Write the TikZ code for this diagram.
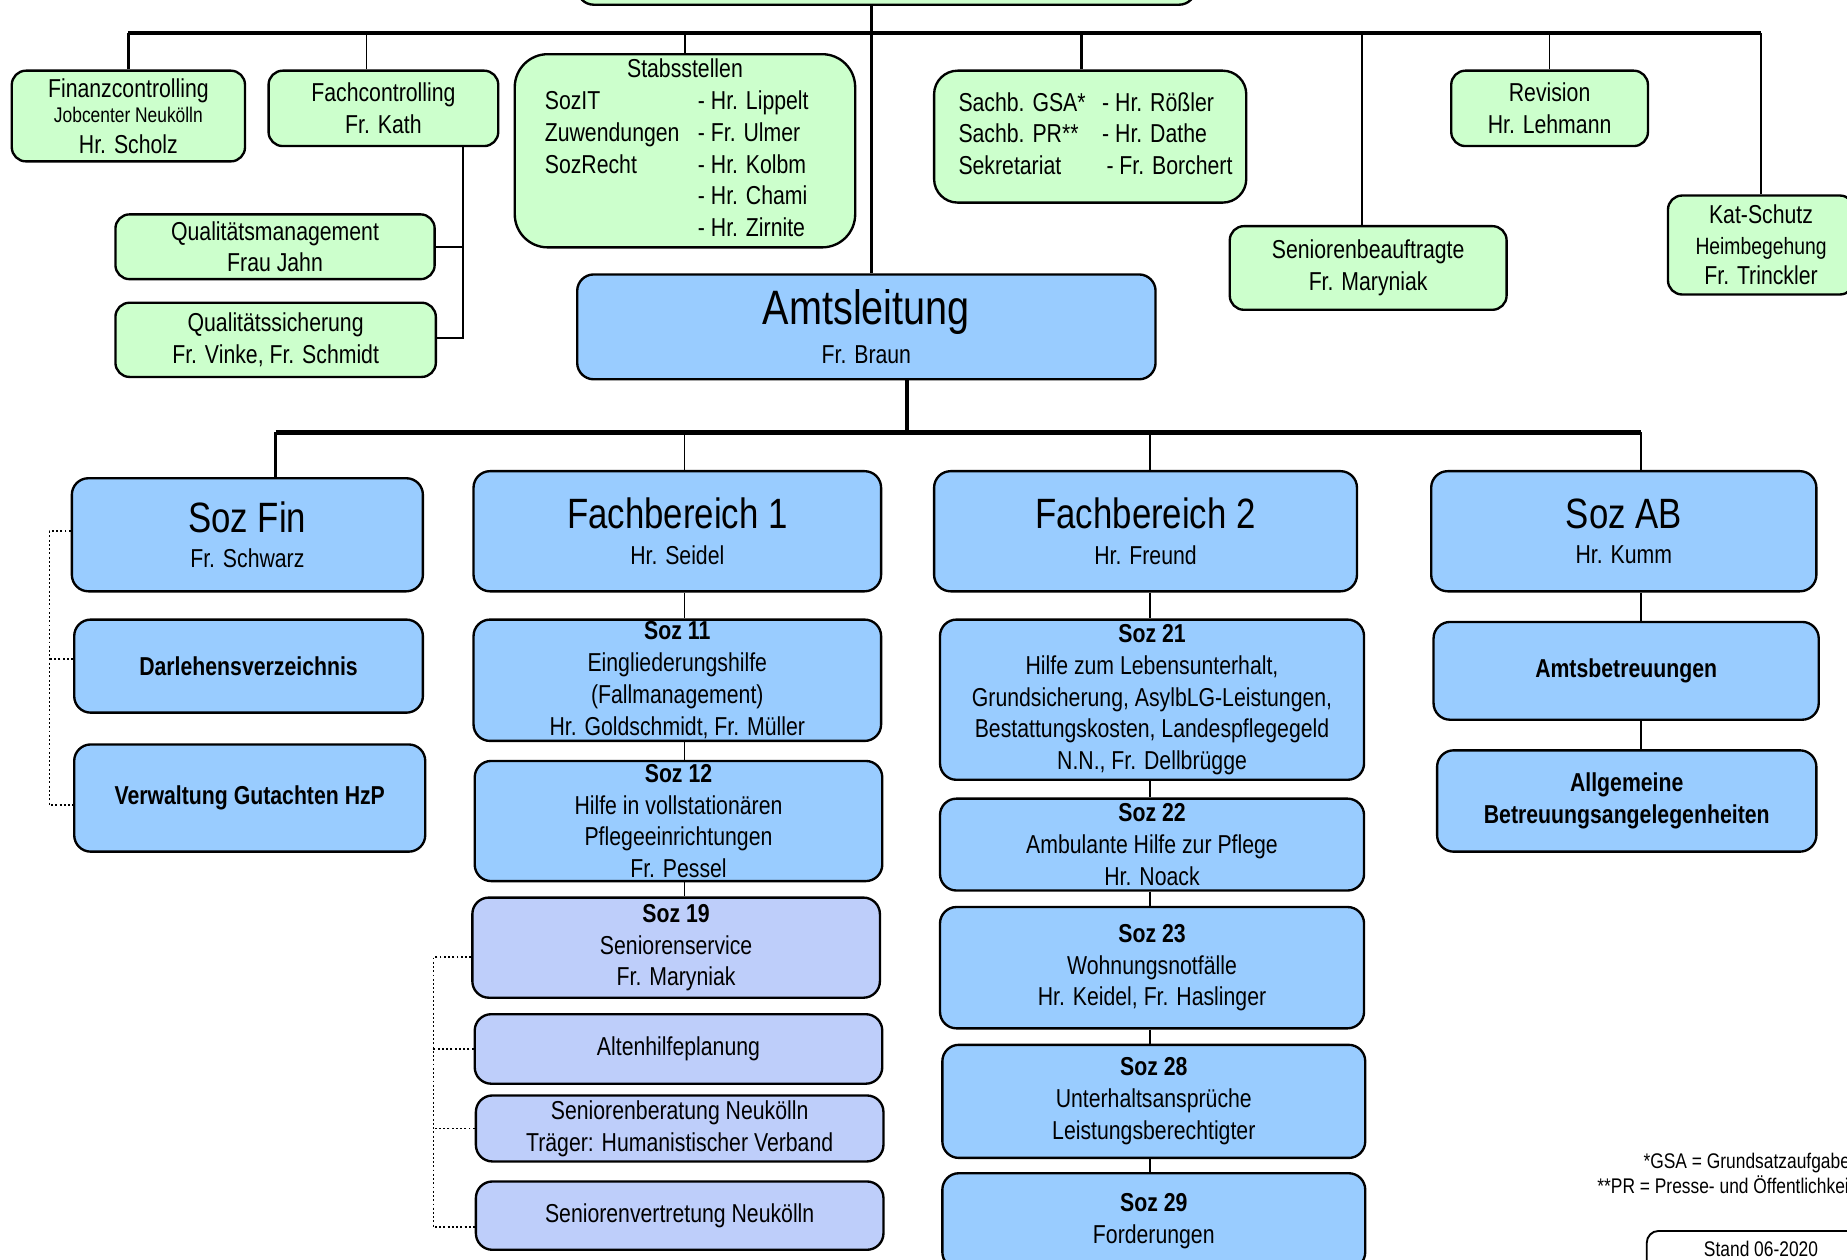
\documentclass[tikz,border=0pt]{standalone}
\usepackage{fontspec}
\setmainfont{Liberation Sans}[FakeStretch=0.82]

\definecolor{gruen}{RGB}{204,255,204}
\definecolor{blau}{RGB}{153,204,255}
\definecolor{lila}{RGB}{190,206,250}

\newcommand\ttlfont{\fontsize{18}{18}\selectfont}
\newcommand\amtfont{\fontsize{20.5}{20.5}\selectfont}
\newcommand\klfont{\fontsize{9}{10.5}\selectfont}
\newcommand\mitfont{\fontsize{10}{12}\selectfont}

\tikzset{
  box/.style={draw, line width=1pt, rounded corners=7pt, inner sep=0pt, align=center},
  greenbox/.style={box, fill=gruen},
  bluebox/.style={box, fill=blau},
  lilabox/.style={box, fill=lila},
  fett/.style={font=\fontsize{11}{13.5}\selectfont\bfseries},
  area/.style n args={4}{minimum width={(#3-#1)*0.5pt}, minimum height={(#4-#2)*0.5pt},
    at={({(#1+#3)/2},{(#2+#4)/2})}},
  bus/.style={line width=2pt},
  trunk/.style={line width=1.3pt},
  link/.style={line width=0.7pt},
  dots/.style={densely dotted, line width=0.8pt}
}

\begin{document}
\begin{tikzpicture}[x=0.5pt, y=-0.5pt, font=\fontsize{11}{13.5}\selectfont]
\useasboundingbox (0,0) rectangle (1568,1069);
\clip (0,0) rectangle (1568,1069);

% Leitung und Stabsstellen
\node[greenbox, area={490}{-60}{1015}{4}] (top) {};
\node[bluebox, area={490}{233}{981}{322}] (amt) {{\amtfont Amtsleitung}\\[3pt]Fr. Braun};

\node[greenbox, rounded corners=6pt, area={10}{60}{208}{137}] (fin) {Finanzcontrolling\\[-2.5pt]{\klfont Jobcenter Neukölln}\\[-0.5pt]Hr. Scholz};
\node[greenbox, rounded corners=6pt, area={228}{60}{423}{124}] (fc) {Fachcontrolling\\Fr. Kath};
\node[greenbox, rounded corners=6pt, area={98}{182}{369}{237}] (qm) {Qualitätsmanagement\\Frau Jahn};
\node[greenbox, rounded corners=6pt, area={98}{257}{370}{320}] (qs) {Qualitätssicherung\\Fr. Vinke, Fr. Schmidt};

\node[greenbox, rounded corners=14pt, area={437}{46}{726}{210}] (stab) {%
  \begin{tabular}{@{}p{65pt}@{}l@{\hspace{7pt}}}
  \multicolumn{2}{@{}c@{}}{Stabsstellen}\\
  SozIT & - Hr. Lippelt\\
  Zuwendungen & - Fr. Ulmer\\
  SozRecht & - Hr. Kolbm\\
  & - Hr. Chami\\
  & - Hr. Zirnite
  \end{tabular}};

\node[greenbox, rounded corners=10pt, area={793}{60}{1058}{172}] (sachb) {%
  \begin{tabular}{@{\hspace{4.5pt}}p{61pt}@{}l@{}}
  Sachb. GSA* & - Hr. Rößler\\
  Sachb. PR** & - Hr. Dathe\\
  Sekretariat & \,- Fr. Borchert
  \end{tabular}};

\node[greenbox, rounded corners=6pt, area={1232}{60}{1399}{124}] (rev) {Revision\\Hr. Lehmann};
\node[greenbox, rounded corners=6pt, area={1044}{192}{1279}{263}] (senb) {Seniorenbeauftragte\\Fr. Maryniak};
\node[greenbox, rounded corners=6pt, area={1416}{166}{1574}{250}] (kat) {Kat-Schutz\\[-0.5pt]{\mitfont Heimbegehung}\\[-0.5pt]Fr. Trinckler};

% obere Linien
\coordinate (bus1) at (740,28);
\coordinate (dfc) at (311,28);
\coordinate (dsachb) at (918,28);
\coordinate (dsenb) at (1156,28);
\coordinate (fq) at (393,287);

\draw[trunk] (top.south -| bus1) -- (amt.north -| bus1);
\draw[bus] (fin.north |- bus1) -- (kat.north |- bus1);
\draw[trunk] (fin.north) -- (fin.north |- bus1);
\draw[link] (fc.north -| dfc) -- (dfc);
\draw[link] (stab.north) -- (stab.north |- bus1);
\draw[trunk] (sachb.north -| dsachb) -- (dsachb);
\draw[link] (senb.north -| dsenb) -- (dsenb);
\draw[link] (rev.north) -- (rev.north |- bus1);
\draw[link] (kat.north) -- (kat.north |- bus1);

\draw[link] (fc.south -| fq) -- (fq) -- (qs.east |- fq);
\draw[link] (qm.east) -- (qm.east -| fq);

% Soz Fin
\node[bluebox, area={61}{406}{359}{502}] (sfin) {{\ttlfont Soz Fin}\\[1.5pt]Fr. Schwarz};
\node[bluebox, fett, area={63}{526}{359}{605}] (darl) {Darlehensverzeichnis};
\node[bluebox, fett, area={63}{632}{361}{723}] (verw) {Verwaltung Gutachten HzP};

% Fachbereich 1
\node[bluebox, area={402}{400}{748}{502}] (fb1) {{\ttlfont Fachbereich 1}\\[1.5pt]Hr. Seidel};
\node[bluebox, area={402}{526}{748}{629}] (s11) {\textbf{Soz 11}\\Eingliederungshilfe\\(Fallmanagement)\\Hr. Goldschmidt, Fr. Müller};
\node[bluebox, area={403}{646}{749}{748}] (s12) {\textbf{Soz 12}\\Hilfe in vollstationären\\Pflegeeinrichtungen\\Fr. Pessel};
\node[lilabox, area={401}{762}{747}{847}] (s19) {\textbf{Soz 19}\\Seniorenservice\\Fr. Maryniak};
\node[lilabox, area={403}{861}{749}{920}] (alt) {Altenhilfeplanung};
\node[lilabox, area={404}{930}{750}{986}] (sber) {Seniorenberatung Neukölln\\Träger: Humanistischer Verband};
\node[lilabox, area={404}{1003}{750}{1061}] (sver) {Seniorenvertretung Neukölln};

% Fachbereich 2
\node[bluebox, area={793}{400}{1152}{502}] (fb2) {{\ttlfont Fachbereich 2}\\[1.5pt]Hr. Freund};
\node[bluebox, area={798}{526}{1158}{662}] (s21) {\textbf{Soz 21}\\Hilfe zum Lebensunterhalt,\\Grundsicherung, AsylbLG-Leistungen,\\Bestattungskosten, Landespflegegeld\\N.N., Fr. Dellbrügge};
\node[bluebox, area={798}{678}{1158}{756}] (s22) {\textbf{Soz 22}\\Ambulante Hilfe zur Pflege\\Hr. Noack};
\node[bluebox, area={798}{770}{1158}{873}] (s23) {\textbf{Soz 23}\\Wohnungsnotfälle\\Hr. Keidel, Fr. Haslinger};
\node[bluebox, area={800}{887}{1159}{983}] (s28) {\textbf{Soz 28}\\Unterhaltsansprüche\\Leistungsberechtigter};
\node[bluebox, area={800}{996}{1159}{1077}] (s29) {\textbf{Soz 29}\\Forderungen};

% Soz AB
\node[bluebox, area={1215}{400}{1542}{502}] (sab) {{\ttlfont Soz AB}\\[1.5pt]Hr. Kumm};
\node[bluebox, fett, area={1217}{528}{1544}{611}] (amtb) {Amtsbetreuungen};
\node[bluebox, fett, area={1220}{637}{1542}{723}] (allg) {Allgemeine\\Betreuungsangelegenheiten};

% untere Linien
\coordinate (bus2) at (770,367);
\coordinate (d1) at (234,367);
\coordinate (d2) at (581,367);
\coordinate (d3) at (976,367);
\coordinate (d4) at (1393,367);

\draw[trunk] (amt.south -| bus2) -- (bus2);
\draw[bus] (d1) -- (d4);
\draw[trunk] (d1) -- (sfin.north -| d1);
\draw[link] (d2) -- (fb1.north -| d2);
\draw[link] (d3) -- (fb2.north -| d3);
\draw[link] (d4) -- (sab.north -| d4);

\draw[link] (fb1.south -| d2) -- (s11.north -| d2);
\draw[link] (s11.south -| d2) -- (s12.north -| d2);
\draw[link] (s12.south -| d2) -- (s19.north -| d2);

\draw[link] (fb2.south -| d3) -- (s21.north -| d3);
\draw[link] (s21.south -| d3) -- (s22.north -| d3);
\draw[link] (s22.south -| d3) -- (s23.north -| d3);
\draw[link] (s23.south -| d3) -- (s28.north -| d3);
\draw[link] (s28.south -| d3) -- (s29.north -| d3);

\draw[link] (sab.south -| d4) -- (amtb.north -| d4);
\draw[link] (amtb.south -| d4) -- (allg.north -| d4);

% gepunktete Klammern
\coordinate (lb) at (42,0);
\coordinate (rb) at (368,0);
\draw[dots] ([yshift=1.5pt]sfin.west) -- ([yshift=1.5pt]sfin.west -| lb) -- ([yshift=-3pt]verw.west -| lb) -- ([yshift=-3pt]verw.west);
\draw[dots] ([yshift=3pt]darl.west) -- ([yshift=3pt]darl.west -| lb);
\draw[dots] ([yshift=-4pt]s19.west) -- ([yshift=-4pt]s19.west -| rb) -- ([yshift=-5pt]sver.west -| rb) -- ([yshift=-5pt]sver.west);
\draw[dots] (alt.west) -- (alt.west -| rb);
\draw[dots] (sber.west) -- (sber.west -| rb);

% Fussnoten
\node[font=\klfont, align=center] (fn) at (1487,996) {*GSA = Grundsatzaufgaben\\**PR = Presse- und Öffentlichkeitsarbeit};
\node[box, rounded corners=5pt, line width=0.8pt, font=\klfont, area={1398}{1045}{1592}{1085}] (stand) {\raisebox{5pt}{Stand 06-2020}};

\end{tikzpicture}
\end{document}
